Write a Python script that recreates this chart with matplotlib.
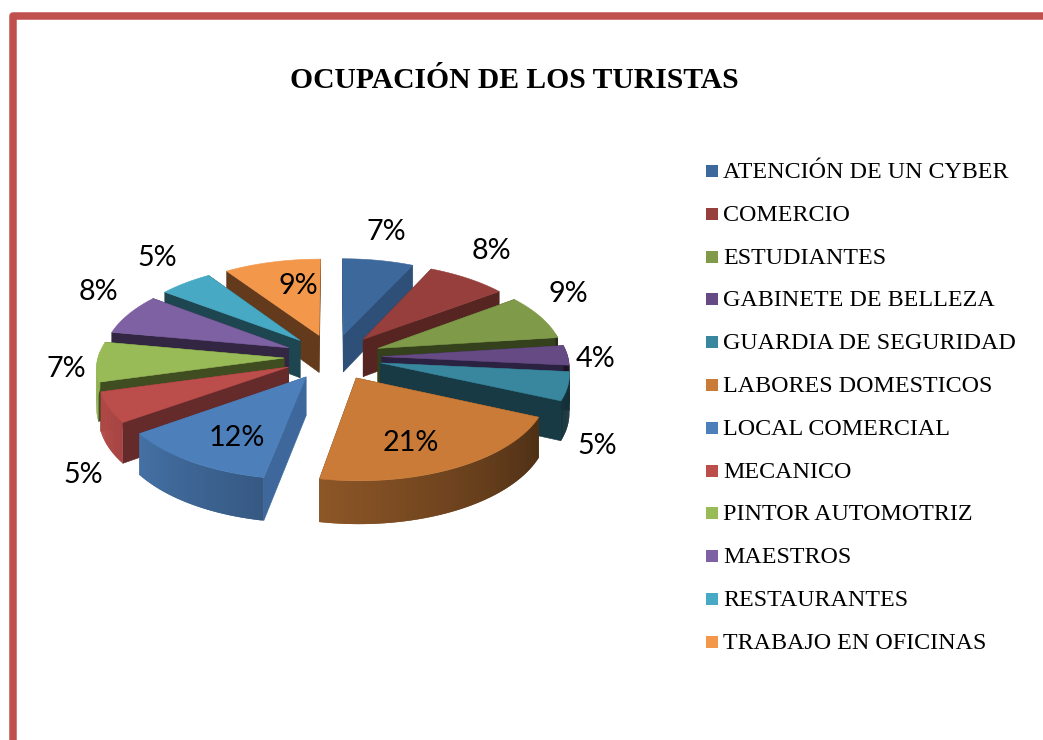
#!/usr/bin/env python3
"""Pastel 3D de ocupación de los turistas, con porciones separadas."""
import numpy as np
import matplotlib
matplotlib.use("Agg")
import matplotlib.pyplot as plt

CATEGORIES = [
    "ATENCIÓN DE UN CYBER", "COMERCIO", "ESTUDIANTES", "GABINETE DE BELLEZA",
    "GUARDIA DE SEGURIDAD", "LABORES DOMESTICOS", "LOCAL COMERCIAL", "MECANICO",
    "PINTOR AUTOMOTRIZ", "MAESTROS", "RESTAURANTES", "TRABAJO EN OFICINAS",
]
# (the printed labels are rounded)
VALUES = [7.0, 7.9, 8.3, 3.6, 5.2, 21.5, 12.3, 5.6, 7.3, 7.5, 5.3, 9.5]
PCT_LABELS = ["7%", "8%", "9%", "4%", "5%", "21%", "12%", "5%", "7%", "8%", "5%", "9%"]

TOP_COLORS = ["#3c689c", "#963f3c", "#7f9a48", "#664a84", "#38879f", "#c97b37",
              "#4d7fba", "#bb4e4b", "#98ba57", "#7d61a2", "#47a9c4", "#f3974a"]
SIDE_COLORS = ["#2e4f77", "#562522", "#35411c", "#2b2140", "#173a44", "#623a1c",
               "#3e689b", "#652b2a", "#404d20", "#322643", "#1d4650", "#633b1c"]

# label centres in pixels
LABEL_XY = [(386, 230), (491, 249), (568, 292), (596, 357), (597, 444), (411, 441),
            (237, 436), (83, 473), (66, 367), (98, 290), (157, 256), (298, 284)]

W, H = 1043, 740
CX, CY = 333, 357
SCALE_X, SCALE_Y = 186, 88
EXPLODE = 0.263
PERSP = 0.10
DEPTH = 38


def project(x, y, z=0.0):
    s = 1.0 / (1.0 + PERSP * y)
    return CX + SCALE_X * x * s, CY - SCALE_Y * y * s + z * s


def arc_shade(theta):
    """How bright the outer wall is, by angle clockwise from 12 o'clock."""
    return np.clip(0.38 + 0.00416 * (theta - 113), 0.28, 0.97)


def darker(color, f):
    rgb = np.array(matplotlib.colors.to_rgb(color))
    return tuple(rgb * f)


def draw_slice(ax, i, a0, a1):
    mid = np.radians((a0 + a1) / 2)
    ox, oy = EXPLODE * np.sin(mid), EXPLODE * np.cos(mid)
    th = np.radians(np.linspace(a0, a1, max(int(a1 - a0), 2) * 2 + 1))
    xs = ox + np.sin(th)
    ys = oy + np.cos(th)

    top_x, top_y = project(xs, ys)
    low_x, low_y = project(xs, ys, DEPTH)
    ax_, ay_ = project(ox, oy)
    bx_, by_ = project(ox, oy, DEPTH)

    # radial walls
    for k in (0, -1):
        ax.fill([ax_, top_x[k], low_x[k], bx_], [ay_, top_y[k], low_y[k], by_],
                color=SIDE_COLORS[i], lw=0.4)

    # outer wall, only the part facing us; strips overlap the next one to hide seams
    n = len(th)
    for k in range(n - 1):
        deg = np.degrees(th[k])
        if deg < 80 or deg > 274:
            continue
        e = min(k + 2, n - 1)
        ax.fill([top_x[k], top_x[e], low_x[e], low_x[k]],
                [top_y[k], top_y[e], low_y[e], low_y[k]],
                color=darker(TOP_COLORS[i], arc_shade(deg)), lw=0)

    ax.fill(np.r_[ax_, top_x], np.r_[ay_, top_y], color=TOP_COLORS[i], lw=0.4)


def main():
    fig = plt.figure(figsize=(W / 100, H / 100), dpi=100, facecolor="white")
    ax = fig.add_axes([0, 0, 1, 1])
    ax.set_xlim(0, W)
    ax.set_ylim(H, 0)
    ax.axis("off")

    # page frame
    ax.plot([13, 13, W + 5], [H + 5, 16, 16], color="#c0504d", lw=5.4,
            solid_joinstyle="round")

    ax.text(514, 80, "OCUPACIÓN DE LOS TURISTAS", family="Liberation Serif",
            weight="bold", fontsize=21.3, ha="center", va="center", color="black")

    edges = np.cumsum([0] + VALUES) / sum(VALUES) * 360
    mids = (edges[:-1] + edges[1:]) / 2
    # back slices first so the front ones cover them
    for i in np.argsort(-np.cos(np.radians(mids))):
        draw_slice(ax, i, edges[i], edges[i + 1])

    for lab, (x, y) in zip(PCT_LABELS, LABEL_XY):
        ax.text(x, y + 2, lab, family="Lato", fontsize=20.7, ha="center", va="center",
                color="black")

    # legend
    for i, name in enumerate(CATEGORIES):
        y = 171 + i * 42.8
        ax.add_patch(plt.Rectangle((706, y - 6), 12, 12, color=TOP_COLORS[i], lw=0))
        ax.text(723, y + 1.5, name, family="Liberation Serif", fontsize=17.3,
                ha="left", va="center", color="black")

    fig.savefig("out.png", dpi=100, facecolor="white")
    plt.close(fig)


if __name__ == "__main__":
    main()
